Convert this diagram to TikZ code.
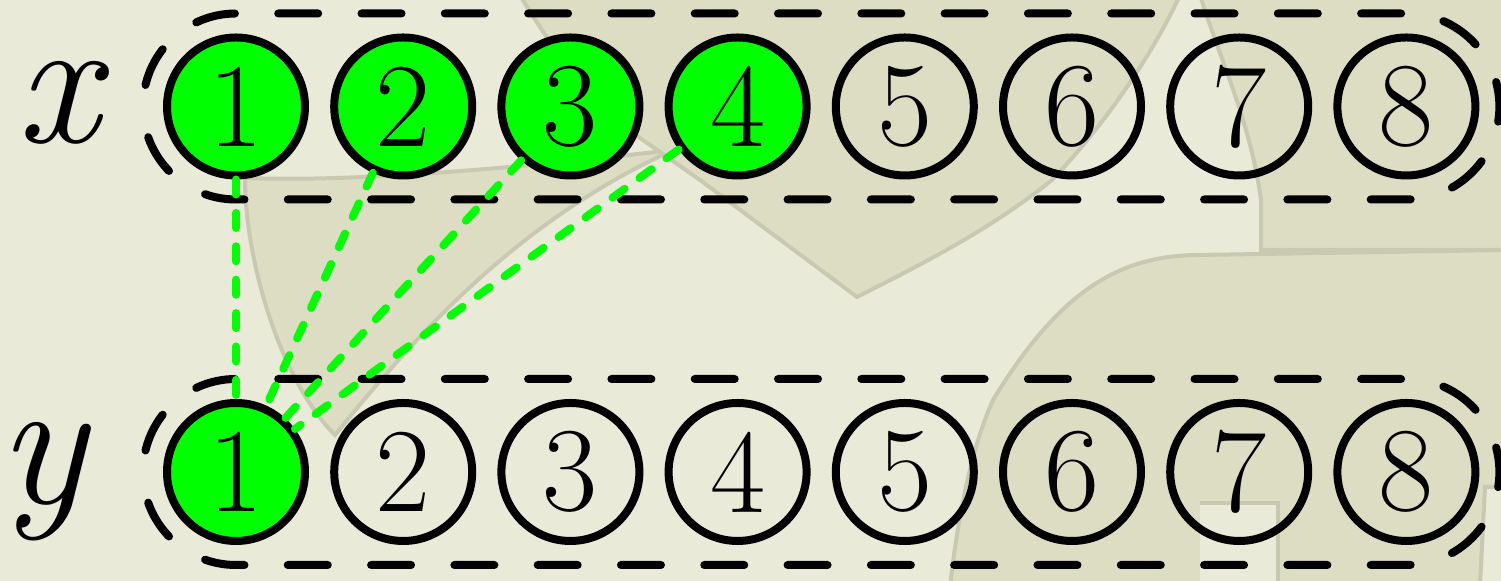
\documentclass[tikz,border=0pt]{standalone}
\usetikzlibrary{calc}
\definecolor{bglight}{HTML}{EAEAD8}
\definecolor{bgdark}{HTML}{DDDDC4}
\definecolor{bgline}{HTML}{C9C9B1}
\definecolor{vgreen}{HTML}{00FF00}
\tikzset{
  vtx/.style={circle, draw=black, line width=4pt, minimum size=69pt, inner sep=0pt,
    font=\fontsize{60}{62}\selectfont},
  sel/.style={vtx, fill=vgreen},
  grp/.style={draw=black, line width=4pt, line cap=round,
    dash pattern=on 20pt off 21.65pt, dash phase=30.8pt},
  link/.style={draw=vgreen, line width=4pt, line cap=round,
    dash pattern=on 7.5pt off 9.2pt},
  lbl/.style={font=\fontsize{92}{94}\selectfont\itshape, inner sep=0pt, anchor=base},
  bgpatch/.style={fill=bgdark, draw=bgline, line width=2pt},
}
\begin{document}
\begin{tikzpicture}[x=0.5pt,y=0.5pt]
\useasboundingbox (0,0) rectangle (1501,581);
\fill[bglight] (0,0) rectangle (1501,581);
\begin{scope}[y=-0.5pt, shift={(0pt,290.5pt)}]
  \path[bgpatch] (245,178) .. controls (245,260) and (280,380) .. (335,435)
     .. controls (420,330) and (520,220) .. (673,150)
     .. controls (500,170) and (350,182) .. (245,178) -- cycle;
  \path[bgpatch] (520,-5) -- (1180,-5) .. controls (1150,60) and (1100,130) .. (1052,180)
     .. controls (990,230) and (920,265) .. (857,297) -- (700,180) -- (600,110)
     .. controls (570,70) and (540,30) .. (520,-5) -- cycle;
  \path[bgpatch] (1200,-5) -- (1506,-5) -- (1506,250) -- (1261,250) -- (1261,200)
     .. controls (1250,120) and (1220,60) .. (1200,-5) -- cycle;
  \path[bgpatch] (993,400) .. controls (1060,290) and (1120,255) .. (1200,255)
     -- (1506,250) -- (1506,586) -- (950,586) .. controls (960,500) and (975,440) .. (993,400) -- cycle;
  \path[fill=bglight, draw=bgline, line width=2pt] (1200,503) -- (1278,503) -- (1278,586) -- (1200,586);
  \path[fill=bglight, draw=bgline, line width=2pt] (1485,487) -- (1506,487) -- (1506,586) -- (1480,586) -- cycle;
\end{scope}

\node[lbl] (lx) at (58,438) {x};
\node[lbl] (ly) at (42,77) {y};

\node[sel] (x1) at (236,474.5) {1};
\node[sel] (x2) at (403.2,474.5) {2};
\node[sel] (x3) at (570.4,474.5) {3};
\node[sel] (x4) at (737.6,474.5) {4};
\node[vtx] (x5) at (904.8,474.5) {5};
\node[vtx] (x6) at (1072,474.5) {6};
\node[vtx] (x7) at (1239.2,474.5) {7};
\node[vtx] (x8) at (1406.4,474.5) {8};

\node[sel] (y1) at (236,109) {1};
\node[vtx] (y2) at (403.2,109) {2};
\node[vtx] (y3) at (570.4,109) {3};
\node[vtx] (y4) at (737.6,109) {4};
\node[vtx] (y5) at (904.8,109) {5};
\node[vtx] (y6) at (1072,109) {6};
\node[vtx] (y7) at (1239.2,109) {7};
\node[vtx] (y8) at (1406.4,109) {8};

\draw[grp] ($(x1.center)+(-93,0)$) arc[start angle=180,end angle=90,radius=46.5pt]
  -- ($(x8.center)+(0,93)$) arc[start angle=90,end angle=-90,radius=46.5pt]
  -- ($(x1.center)+(0,-93)$) arc[start angle=270,end angle=180,radius=46.5pt];
\draw[grp] ($(y1.center)+(-93,0)$) arc[start angle=180,end angle=90,radius=46.5pt]
  -- ($(y8.center)+(0,93)$) arc[start angle=90,end angle=-90,radius=46.5pt]
  -- ($(y1.center)+(0,-93)$) arc[start angle=270,end angle=180,radius=46.5pt];

\draw[link] (x1) -- (y1);
\draw[link] (x2) -- (y1);
\draw[link] (x3) -- (y1);
\draw[link] (x4) -- (y1);
\end{tikzpicture}
\end{document}
